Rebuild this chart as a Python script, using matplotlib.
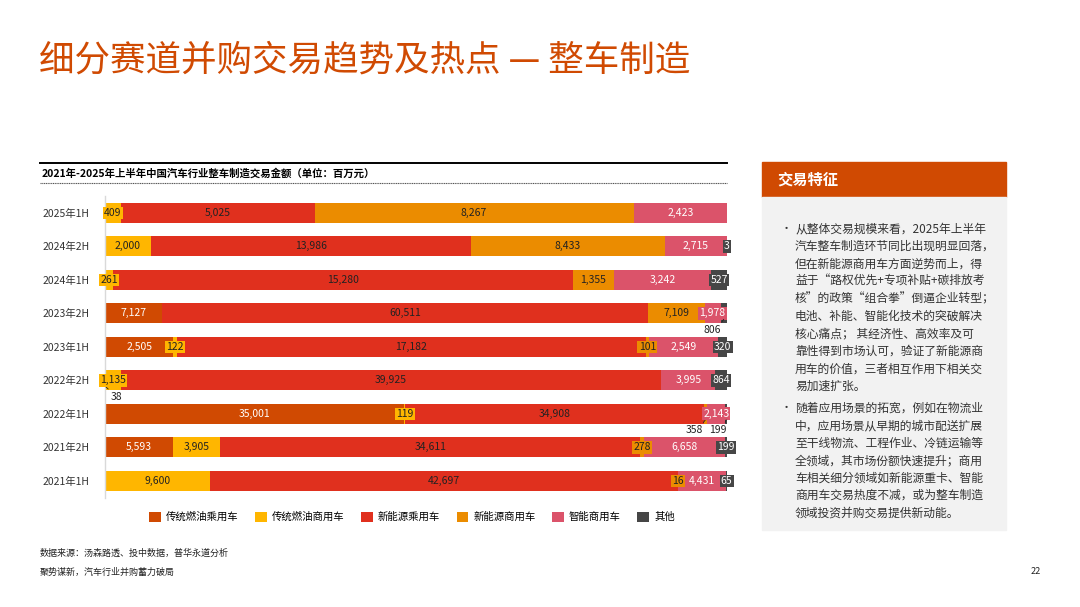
import numpy as np
import matplotlib
matplotlib.use('Agg')
import matplotlib.pyplot as plt
from matplotlib.patches import Rectangle
from matplotlib.lines import Line2D

plt.rcParams['font.family'] = ['Noto Sans CJK SC', 'DejaVu Sans']

# data (top to bottom)
periods = ['2025年1H', '2024年2H', '2024年1H', '2023年2H', '2023年1H',
           '2022年2H', '2022年1H', '2021年2H', '2021年1H']
series = ['传统燃油乘用车', '传统燃油商用车', '新能源乘用车', '新能源商用车', '智能商用车', '其他']
ice_pv = [0, 0, 0, 7127, 2505, 38, 35001, 5593, 0]
ice_cv = [409, 2000, 261, 0, 122, 1135, 119, 3905, 9600]
nev_pv = [5025, 13986, 15280, 60511, 17182, 39925, 34908, 34611, 42697]
nev_cv = [8267, 8433, 1355, 7109, 101, 0, 358, 278, 16]
smart_cv = [2423, 2715, 3242, 1978, 2549, 3995, 2143, 6658, 4431]
other = [0, 3, 527, 806, 320, 864, 199, 199, 65]

colors = ['#D04A02', '#FFB600', '#E0301E', '#EB8C00', '#DB536A', '#464646']
txt_colors = ['white', '#222222', '#222222', '#222222', 'white', 'white']

# labels drawn below the bar with a leader line: (period index, series index, dx pt)
outside = [(3, 5, -8), (5, 0, 8), (6, 3, -8), (6, 5, -6)]

W, H = 1080, 607
fig = plt.figure(figsize=(W / 100, H / 100), dpi=100)


def fx(px):
    return px / W


def fy(py):
    return 1 - py / H


# page title
fig.text(fx(39), fy(61), '细分赛道并购交易趋势及热点 — 整车制造', color='#D04A02',
         fontsize=25.6, fontweight='light', va='center', ha='left')

# chart heading with rules
fig.add_artist(Line2D([fx(40), fx(727)], [fy(163), fy(163)], color='black', lw=1.4))
fig.text(fx(42), fy(173), '2021年-2025年上半年中国汽车行业整车制造交易金额（单位：百万元）',
         fontsize=7.5, fontweight='bold', va='center')
fig.add_artist(Line2D([fx(40), fx(727)], [fy(183), fy(183)], color='#555555', lw=0.8,
                      linestyle=(0, (1, 0.6))))

# bar chart
ax = fig.add_axes([fx(105), fy(497.5), fx(727) - fx(105), (497.5 - 196) / H])
data = np.array([ice_pv, ice_cv, nev_pv, nev_cv, smart_cv, other], dtype=float)
totals = data.sum(axis=0)
shares = data / totals
y = np.arange(len(periods))
left = np.zeros(len(periods))
bar_h = 0.6
px_per_unit = 622.0
for s in range(len(series)):
    ax.barh(y, shares[s], left=left, height=bar_h, color=colors[s], label=series[s],
            edgecolor='none')
    for i in range(len(periods)):
        v = data[s, i]
        if v <= 0:
            continue
        cx = left[i] + shares[s, i] / 2
        lab = f'{int(v):,}'
        hit = [o for o in outside if o[0] == i and o[1] == s]
        if hit:
            dx = hit[0][2]
            ax.annotate(lab, xy=(cx, y[i] + bar_h / 2 - 0.12), xytext=(dx, -4),
                        textcoords='offset points', ha='center', va='top',
                        fontsize=7.5, color='#222222',
                        arrowprops=dict(arrowstyle='-', color='#222222', lw=0.6,
                                        shrinkA=0, shrinkB=0,
                                        relpos=(0.5 - np.sign(dx) * 0.35, 0.9)))
            continue
        seg_px = shares[s, i] * px_per_unit
        need_px = len(lab) * 5.6 + 4
        if seg_px < need_px:
            ax.text(cx, y[i], lab, ha='center', va='center', fontsize=7.5,
                    color=txt_colors[s],
                    bbox=dict(boxstyle='square,pad=0.12', fc=colors[s], ec='none'))
        else:
            ax.text(cx, y[i], lab, ha='center', va='center', fontsize=7.5,
                    color=txt_colors[s])
    left += shares[s]

ax.set_xlim(0, 1)
ax.set_ylim(len(periods) - 0.5, -0.5)
ax.set_yticks(y)
ax.set_yticklabels(periods, fontsize=7.5, color='#333333')
ax.set_xticks([])
ax.tick_params(axis='y', length=0, pad=11)
for sp in ['top', 'right', 'bottom']:
    ax.spines[sp].set_visible(False)
ax.spines['left'].set_color('#D9D9D9')
ax.spines['left'].set_linewidth(1.0)

handles, labels = ax.get_legend_handles_labels()
fig.legend(handles, labels, loc='center', bbox_to_anchor=(fx(412), fy(517)), ncol=6,
           frameon=False, fontsize=7.5, handlelength=1.1, handleheight=1.1,
           handletextpad=0.5, columnspacing=1.6)

# right panel
fig.add_artist(Rectangle((fx(762), fy(197)), fx(1006) - fx(762), (197 - 162) / H,
                         transform=fig.transFigure, color='#D04A02', zorder=0))
fig.add_artist(Rectangle((fx(762), fy(530)), fx(1006) - fx(762), (530 - 197) / H,
                         transform=fig.transFigure, color='#F2F2F2', zorder=0))
fig.text(fx(777), fy(180), '交易特征', color='white', fontsize=11, fontweight='bold',
         va='center')

bullet1 = ['从整体交易规模来看，2025年上半年',
           '汽车整车制造环节同比出现明显回落，',
           '但在新能源商用车方面逆势而上，得',
           '益于“路权优先+专项补贴+碳排放考',
           '核”的政策“组合拳”倒逼企业转型；',
           '电池、补能、智能化技术的突破解决',
           '核心痛点； 其经济性、高效率及可',
           '靠性得到市场认可，验证了新能源商',
           '用车的价值，三者相互作用下相关交',
           '易加速扩张。']
bullet2 = ['随着应用场景的拓宽，例如在物流业',
           '中，应用场景从早期的城市配送扩展',
           '至干线物流、工程作业、冷链运输等',
           '全领域，其市场份额快速提升；商用',
           '车相关细分领域如新能源重卡、智能',
           '商用车交易热度不减，或为整车制造',
           '领域投资并购交易提供新动能。']
step = 17.5
for top, lines in [(229, bullet1), (408, bullet2)]:
    fig.text(fx(781), fy(top), '•', fontsize=8, va='center', color='#333333')
    for k, ln in enumerate(lines):
        fig.text(fx(795), fy(top + k * step), ln, fontsize=8.5, va='center',
                 color='#333333')

# footer
fig.text(fx(40), fy(553), '数据来源：汤森路透、投中数据，普华永道分析', fontsize=6.5,
         va='center', color='#222222')
fig.text(fx(40), fy(572), '聚势谋新，汽车行业并购蓄力破局', fontsize=6.5, va='center',
         color='#222222')
fig.text(fx(1041), fy(572), '22', fontsize=6.5, va='center', ha='right', color='#222222')

fig.savefig('out.png', dpi=100)
